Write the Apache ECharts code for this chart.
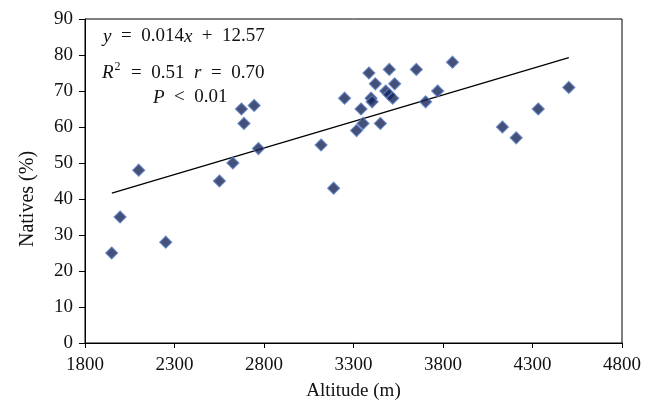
<!DOCTYPE html>
<html>
<head>
<meta charset="utf-8">
<script src="https://cdn.jsdelivr.net/npm/echarts@6/dist/echarts.min.js"></script>
<style>
  html, body { margin: 0; padding: 0; background: #fff; }
  #chart { width: 653px; height: 407px; }
</style>
</head>
<body>
<div id="chart"></div>
<script>
// altitude (m) of each site
const altitude = [1949, 1996, 2100, 2251, 2551, 2626, 2674, 2688, 2745, 2769,
  3119, 3189, 3250, 3317, 3353, 3342, 3386, 3422, 3398, 3404,
  3450, 3480, 3499, 3500, 3519, 3530, 3651, 3703, 3770, 3853,
  4132, 4209, 4332, 4503];
// natives (%) at each site
const natives = [25, 35, 48, 28, 45, 50, 65, 61, 66, 54,
  55, 43, 68, 59, 61, 65, 75, 72, 68, 67,
  61, 70, 69, 76, 68, 72, 76, 67, 70, 78,
  60, 57, 65, 71];
// fitted line end points as drawn
const trendX = [1950, 4503];
const trendY = [41.6, 79.3];

const xTicks = { min: 1800, max: 4800, interval: 500 };
const yTicks = { min: 0, max: 90, interval: 10 };

const serif = '"Liberation Serif", "DejaVu Serif", serif';
const chart = echarts.init(document.getElementById('chart'));

const points = altitude.map((a, i) => [a, natives[i]]);
const trend = trendX.map((x, i) => [x, trendY[i]]);

const SP = '\u2002'; // wider gap around operators
const fs = 19;
const rich = {
  n: { fontFamily: serif, fontSize: fs, lineHeight: 24, verticalAlign: 'middle' },
  i: { fontFamily: serif, fontSize: fs, fontStyle: 'italic', lineHeight: 24, verticalAlign: 'middle' },
  s: { fontFamily: serif, fontSize: 12, lineHeight: 12, verticalAlign: 'top', padding: [0, 1, 0, 1] }
};

const option = {
  animation: false,
  grid: {
    left: 85, right: 31, top: 19, bottom: 64,
    show: true, borderColor: '#000', borderWidth: 1
  },
  xAxis: {
    type: 'value',
    min: xTicks.min, max: xTicks.max, interval: xTicks.interval,
    name: 'Altitude (m)',
    nameLocation: 'middle',
    nameGap: 39,
    nameTextStyle: { fontFamily: serif, fontSize: 19, color: '#111' },
    axisLine: { lineStyle: { color: '#000', width: 1 } },
    axisTick: { show: true, length: 5, lineStyle: { color: '#000' } },
    axisLabel: { fontFamily: serif, fontSize: 19, color: '#111', margin: 13, formatter: v => String(v) },
    splitLine: { show: false }
  },
  yAxis: {
    type: 'value',
    min: yTicks.min, max: yTicks.max, interval: yTicks.interval,
    axisLine: { show: true, lineStyle: { color: '#000', width: 1 } },
    axisTick: { show: true, length: 6, lineStyle: { color: '#000' } },
    axisLabel: { fontFamily: serif, fontSize: 19, color: '#111', margin: 12 },
    splitLine: { show: false }
  },
  graphic: [
    {
      type: 'text', x: 28, y: 199, rotation: Math.PI / 2,
      style: {
        text: 'Natives (%)', fontFamily: serif, fontSize: 20, fill: '#111',
        align: 'center', verticalAlign: 'middle'
      }
    },
    {
      type: 'text', left: 103, top: 27,
      style: {
        text: `{i|y}{n|${SP}=${SP}0.014}{i|x}{n|${SP}+${SP}12.57}`,
        fill: '#111', rich
      }
    },
    {
      type: 'text', left: 102, top: 61,
      style: {
        text: `{i|R}{s|2}{n|${SP}=${SP}0.51${SP}}{i|r}{n|${SP}=${SP}0.70}`,
        fill: '#111', rich
      }
    },
    {
      type: 'text', left: 153, top: 88,
      style: {
        text: `{i|P}{n|${SP}<${SP}0.01}`,
        fill: '#111', rich
      }
    }
  ],
  series: [
    {
      type: 'line',
      data: trend,
      symbol: 'none',
      lineStyle: { color: '#000', width: 1.3 },
      z: 1
    },
    {
      type: 'scatter',
      data: points,
      symbol: 'diamond',
      symbolSize: 12,
      itemStyle: { color: '#172457', borderColor: '#5a80c4', borderWidth: 1.2 },
      z: 3
    }
  ]
};

chart.setOption(option);
</script>
</body>
</html>
